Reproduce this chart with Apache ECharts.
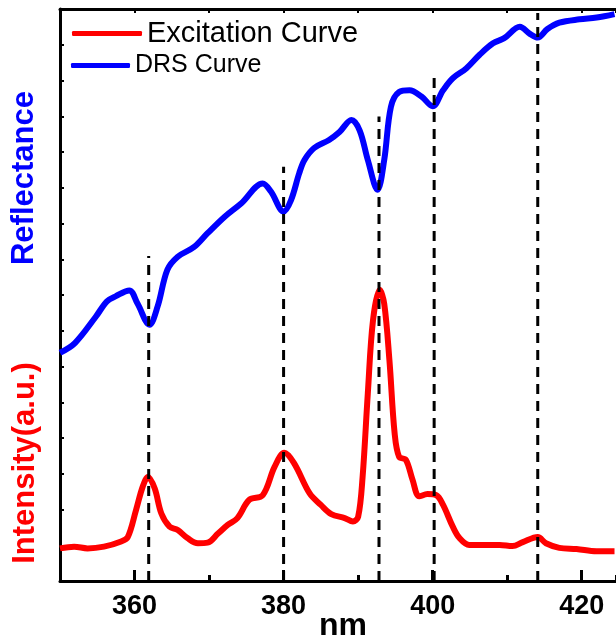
<!DOCTYPE html>
<html>
<head>
<meta charset="utf-8">
<script src="https://cdn.jsdelivr.net/npm/echarts@6/dist/echarts.min.js"></script>
<style>
  html, body { margin: 0; padding: 0; background: #fff; }
  #chart { width: 616px; height: 643px; }
</style>
</head>
<body>
<div id="chart"></div>
<script>
// ---- Data ----
const drsNm = [350.0, 352.0, 354.8, 356.3, 357.5, 359.3, 360.4, 362.0, 363.1, 364.4, 365.8, 368.0, 369.8, 372.1, 374.3, 377.2, 378.3, 380.0, 381.0, 382.1, 382.8, 384.1, 386.1, 387.5, 389.1, 390.2, 391.3, 392.6, 393.5, 394.4, 395.5, 396.9, 398.5, 400.0, 401.4, 402.7, 404.5, 406.3, 408.1, 409.6, 411.7, 413.0, 414.1, 415.4, 417.0, 419.7, 422.0, 424.4];
const reflectance = [39.9, 41.6, 46.2, 48.9, 49.8, 50.8, 48.5, 44.8, 48.0, 54.4, 56.7, 58.4, 60.8, 63.7, 66.0, 69.5, 68.1, 64.6, 66.6, 71.3, 73.6, 75.7, 77.1, 78.5, 80.6, 78.8, 73.6, 68.4, 73.6, 82.9, 85.5, 85.8, 84.7, 83.0, 85.8, 87.9, 89.6, 92.0, 94.0, 94.9, 96.9, 95.7, 95.0, 96.5, 97.6, 98.2, 98.5, 99.1];

const excNm = [350.0, 351.9, 353.7, 355.9, 358.2, 359.1, 360.2, 361.1, 361.8, 362.7, 363.6, 364.7, 365.8, 367.1, 368.5, 369.8, 371.2, 372.5, 373.8, 375.4, 377.2, 378.8, 380.1, 381.4, 383.5, 385.0, 386.4, 388.2, 389.3, 390.0, 390.6, 391.3, 392.0, 392.9, 393.5, 394.2, 394.9, 395.5, 396.4, 397.3, 398.2, 399.3, 400.5, 401.4, 402.7, 403.6, 404.9, 406.3, 409.0, 410.7, 412.1, 414.1, 415.2, 417.0, 419.3, 422.0, 424.4];
const intensity = [5.7, 6.0, 5.7, 6.0, 6.9, 7.7, 12.4, 16.5, 18.2, 16.2, 11.8, 9.5, 8.9, 7.5, 6.6, 6.7, 8.3, 9.8, 11.0, 14.2, 15.0, 20.0, 22.4, 20.6, 15.3, 13.3, 11.7, 11.0, 10.4, 11.2, 18.2, 32.8, 45.6, 50.9, 48.5, 38.6, 25.8, 21.7, 21.2, 17.7, 14.8, 15.2, 15.0, 13.3, 9.5, 7.5, 6.3, 6.3, 6.3, 6.1, 6.8, 7.7, 6.6, 5.8, 5.6, 5.2, 5.2];

const peakNm = [361.9, 380.0, 392.8, 400.2, 414.1];
const peakLineTop = [56.8, 72.4, 81.2, 89.0, 99.3];

const xMajorTicks = [360, 380, 400, 420];
const seriesNames = ['Excitation Curve', 'DRS Curve'];

// ---- Chart ----
const FONT = "'Liberation Sans', Arial, sans-serif";
const chart = echarts.init(document.getElementById('chart'), null, { renderer: 'canvas' });

const X_MIN = 350, X_MAX = 424.6;

const dashSeries = peakNm.map((x, i) => ({
  type: 'line',
  name: 'peak' + i,
  data: [[x, 0], [x, peakLineTop[i]]],
  showSymbol: false,
  silent: true,
  z: 5,
  lineStyle: { color: '#000', width: 3, type: [10, 7] }
}));

const option = {
  animation: false,
  backgroundColor: '#fff',
  grid: { left: 60, right: 0, top: 9, bottom: 62, containLabel: false },
  legend: [
    {
      data: [seriesNames[0]], left: 72, top: 19, padding: 0,
      icon: 'roundRect', itemWidth: 70, itemHeight: 5,
      textStyle: { fontFamily: FONT, fontSize: 29, color: '#000' }
    },
    {
      data: [seriesNames[1]], left: 71, top: 53, padding: 0,
      icon: 'roundRect', itemWidth: 59, itemHeight: 5,
      textStyle: { fontFamily: FONT, fontSize: 25, color: '#000' }
    }
  ],
  xAxis: [
    {
      type: 'value', min: X_MIN, max: X_MAX, position: 'bottom',
      axisLine: { lineStyle: { color: '#000', width: 3 } },
      axisTick: { inside: true, length: 11, customValues: xMajorTicks, lineStyle: { color: '#000', width: 3 } },
      axisLabel: { customValues: xMajorTicks, margin: 12, fontFamily: FONT, fontSize: 27, fontWeight: 'bold', color: '#000' },
      splitLine: { show: false }
    },
    {
      type: 'value', min: X_MIN, max: X_MAX, interval: 10, position: 'bottom', gridIndex: 0,
      axisLine: { show: false },
      axisTick: { inside: true, length: 6, lineStyle: { color: '#000', width: 3 } },
      axisLabel: { show: false },
      splitLine: { show: false }
    },
    {
      type: 'value', min: X_MIN, max: X_MAX, interval: 10, position: 'top', gridIndex: 0,
      axisLine: { lineStyle: { color: '#000', width: 3 } },
      axisTick: { inside: true, length: 4, lineStyle: { color: '#000', width: 2 } },
      axisLabel: { show: false },
      splitLine: { show: false }
    }
  ],
  yAxis: {
    type: 'value', min: 0, max: 100, interval: 6.25,
    axisLine: { show: true, lineStyle: { color: '#000', width: 3 } },
    axisTick: { show: true, inside: true, length: 4, lineStyle: { color: '#000', width: 2 } },
    axisLabel: { show: false },
    splitLine: { show: false }
  },
  graphic: [
    { type: 'text', x: 343, y: 626, style: { text: 'nm', font: "bold 32px " + FONT, fill: '#000', align: 'center', verticalAlign: 'middle' } },
    { type: 'text', x: 24, y: 178, rotation: Math.PI / 2, style: { text: 'Reflectance', font: "bold 31px " + FONT, fill: '#0000ff', align: 'center', verticalAlign: 'middle' } },
    { type: 'text', x: 25, y: 463, rotation: Math.PI / 2, style: { text: 'Intensity(a.u.)', font: "bold 31px " + FONT, fill: '#ff0000', align: 'center', verticalAlign: 'middle' } }
  ],
  series: [
    {
      type: 'line', name: seriesNames[0],
      data: excNm.map((x, i) => [x, intensity[i]]),
      showSymbol: false, smooth: 0.35, z: 3,
      color: '#ff0000',
      lineStyle: { color: '#ff0000', width: 6 }
    },
    {
      type: 'line', name: seriesNames[1],
      data: drsNm.map((x, i) => [x, reflectance[i]]),
      showSymbol: false, smooth: 0.35, z: 3,
      color: '#0000ff',
      lineStyle: { color: '#0000ff', width: 6 }
    }
  ].concat(dashSeries)
};

chart.setOption(option);
</script>
</body>
</html>
